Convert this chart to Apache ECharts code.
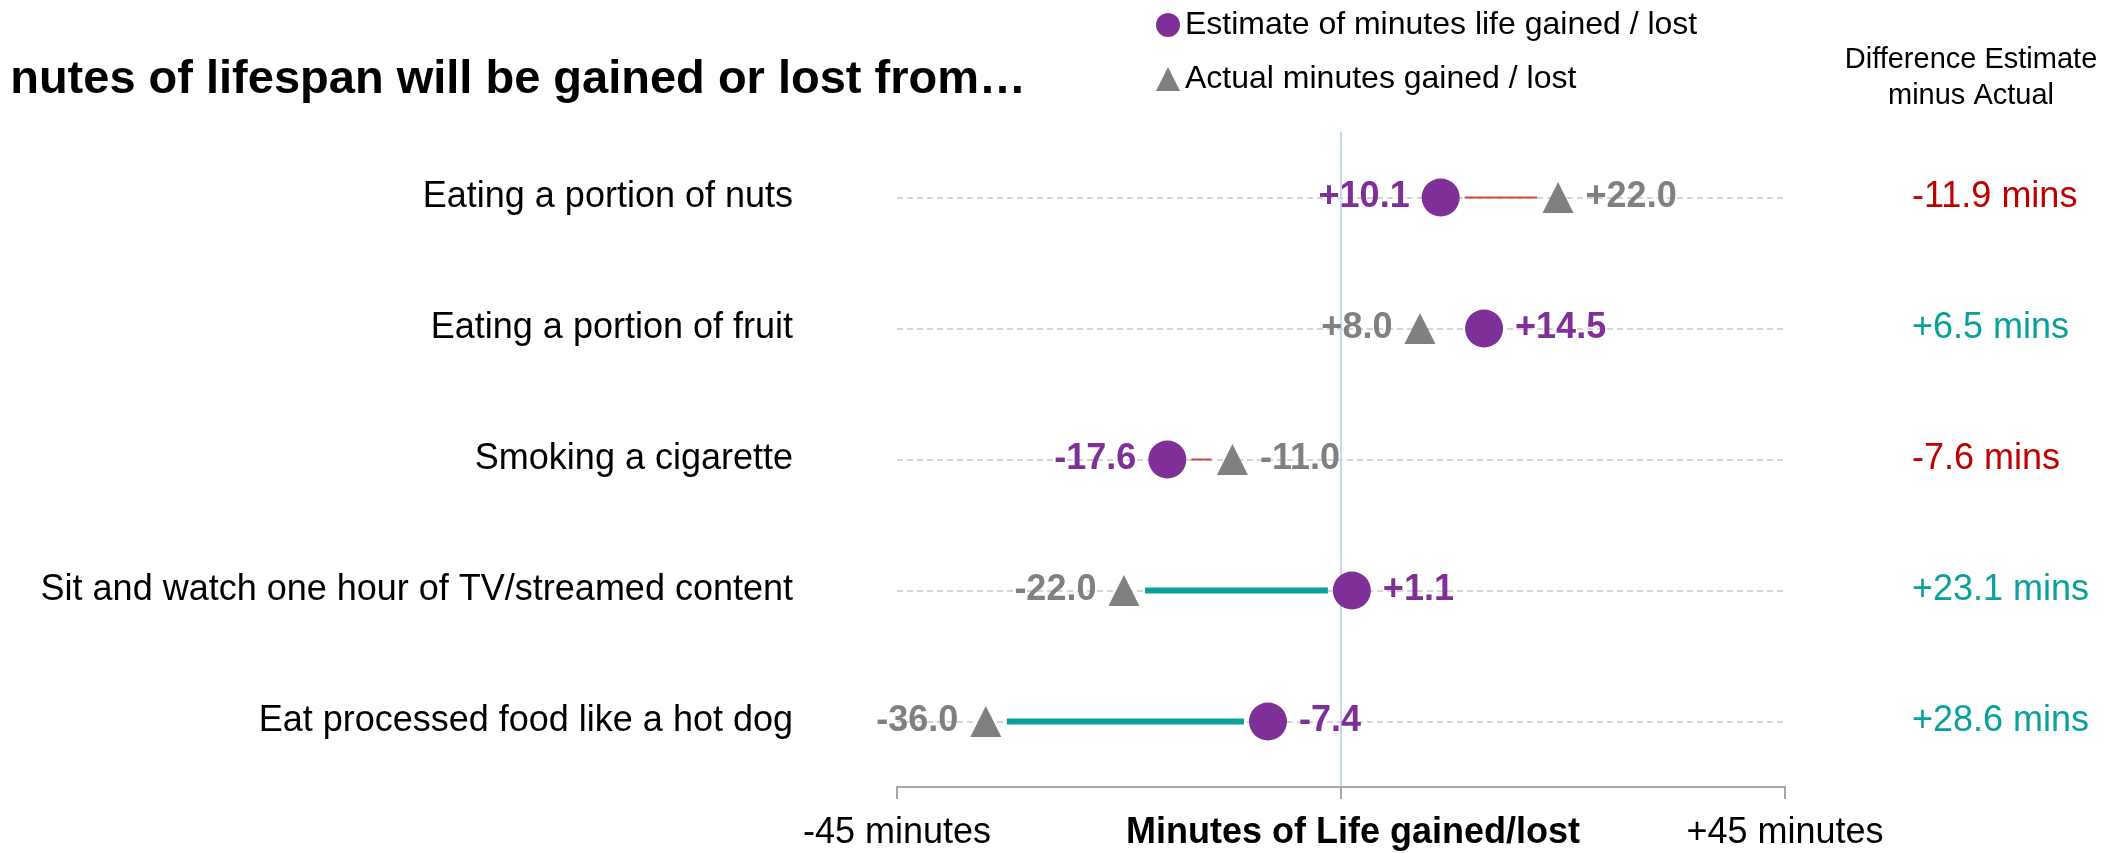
<!DOCTYPE html>
<html>
<head>
<meta charset="utf-8">
<title>Minutes of lifespan</title>
<script src="https://cdn.jsdelivr.net/npm/echarts@6/dist/echarts.min.js"></script>
<style>
  html, body { margin: 0; padding: 0; background: #fff; }
  #chart { width: 2116px; height: 853px; }
</style>
</head>
<body>
<div id="chart"></div>
<script>
// data
const categories = [
  'Eating a portion of nuts',
  'Eating a portion of fruit',
  'Smoking a cigarette',
  'Sit and watch one hour of TV/streamed content',
  'Eat processed food like a hot dog'
]
const estimate = [10.1, 14.5, -17.6, 1.1, -7.4]
const actual = [22.0, 8.0, -11.0, -22.0, -36.0]
const diffLabels = ['-11.9', '+6.5', '-7.6', '+23.1', '+28.6']
// rows that have a connector drawn between the two marks
const linkedRows = [0, 2, 3, 4]
const tickValues = [-45, 0, 45]
const tickLabels = ['-45 minutes', '', '+45 minutes']

const FONT = "'Liberation Sans', Arial, sans-serif"
const PURPLE = '#7f3098'
const GREY = '#808080'
const TEAL = '#0aa19b'
const RED = '#c00000'

const fmt = (v) => (v > 0 ? '+' : '') + v.toFixed(1)

const chart = echarts.init(document.getElementById('chart'))

const option = {
  animation: false,
  textStyle: { fontFamily: FONT },
  title: [
    {
      text: 'nutes of lifespan will be gained or lost from…',
      left: 1021,
      top: 52,
      textAlign: 'right',
      textStyle: { fontFamily: FONT, fontSize: 47, fontWeight: 'bold', color: '#000' }
    },
    {
      text: 'Difference Estimate\nminus Actual',
      left: 1966,
      top: 37,
      textAlign: 'center',
      textStyle: { fontFamily: FONT, fontSize: 29, fontWeight: 'normal', color: '#000', lineHeight: 36 }
    }
  ],
  legend: {
    orient: 'vertical',
    left: 1151,
    top: 4,
    itemWidth: 24,
    itemHeight: 24,
    itemGap: 22,
    textStyle: { fontFamily: FONT, fontSize: 32, color: '#000' },
    data: [
      { name: 'Estimate of minutes life gained / lost', icon: 'circle' },
      { name: 'Actual minutes gained / lost', icon: 'triangle' }
    ]
  },
  grid: { left: 897, right: 331, top: 132, bottom: 66, outerBoundsMode: 'none', containLabel: false },
  xAxis: {
    type: 'value',
    min: -45,
    max: 45,
    interval: 45,
    name: 'Minutes of Life gained/lost',
    nameLocation: 'middle',
    nameGap: 28,
    nameMoveOverlap: false,
    nameTextStyle: { fontFamily: FONT, fontSize: 36, fontWeight: 'bold', color: '#000', padding: [0, 0, 0, 24] },
    axisLine: { show: true, lineStyle: { color: '#a6a6a6', width: 2 } },
    axisTick: { show: true, length: 12, lineStyle: { color: '#a6a6a6', width: 2 } },
    axisLabel: {
      margin: 28,
      fontSize: 36,
      color: '#000',
      formatter: (v) => {
        const i = tickValues.indexOf(v)
        return i >= 0 ? tickLabels[i] : ''
      }
    },
    splitLine: { show: false }
  },
  yAxis: [
    {
      type: 'category',
      data: categories,
      inverse: true,
      axisLine: { show: false },
      axisTick: { show: false },
      axisLabel: { margin: 104, fontSize: 36, color: '#000' }
    },
    {
      type: 'category',
      data: categories,
      inverse: true,
      position: 'right',
      axisLine: { show: false },
      axisTick: { show: false },
      axisLabel: {
        margin: 127,
        fontSize: 36,
        formatter: (v, i) => {
          const d = diffLabels[i]
          return (d.charAt(0) === '-' ? '{neg|' : '{pos|') + d + ' mins}'
        },
        rich: {
          neg: { fontFamily: FONT, fontSize: 36, color: RED },
          pos: { fontFamily: FONT, fontSize: 36, color: TEAL }
        }
      }
    }
  ],
  series: [
    {
      // guide lines: dashed row lines and the blue zero line
      type: 'scatter',
      data: [],
      silent: true,
      z: 0,
      markLine: {
        silent: true,
        symbol: 'none',
        z: 0,
        label: { show: false },
        data: categories.map((c) => ({
          yAxis: c,
          lineStyle: { color: '#c8c8c8', type: [6, 4], width: 1.5 }
        })).concat([
          { xAxis: 0, lineStyle: { color: '#c6d9f1', type: 'solid', width: 2 } }
        ])
      }
    },
    {
      // connectors between estimate and actual
      type: 'custom',
      silent: true,
      encode: { x: [0, 1], y: 2 },
      data: linkedRows.map((i) => [estimate[i], actual[i], i]),
      renderItem: (params, api) => {
        const est = api.value(0)
        const act = api.value(1)
        const row = api.value(2)
        const p1 = api.coord([est, row])
        const p2 = api.coord([act, row])
        const dir = p2[0] > p1[0] ? 1 : -1
        const positive = est - act > 0
        return {
          type: 'line',
          shape: { x1: p1[0] + dir * 24, y1: p1[1], x2: p2[0] - dir * 21, y2: p2[1] },
          style: {
            stroke: positive ? TEAL : '#cc4a3c',
            lineWidth: positive ? 6 : 2
          }
        }
      },
      z: 10
    },
    {
      name: 'Actual minutes gained / lost',
      type: 'scatter',
      symbol: 'triangle',
      symbolSize: 31,
      itemStyle: { color: GREY, opacity: 1 },
      data: actual.map((v, i) => ({
        value: [v, i],
        label: { position: v < estimate[i] ? 'left' : 'right' }
      })),
      label: {
        show: true,
        distance: 12,
        fontFamily: FONT,
        fontSize: 36,
        fontWeight: 'bold',
        color: GREY,
        formatter: (p) => fmt(p.value[0])
      },
      z: 11
    },
    {
      name: 'Estimate of minutes life gained / lost',
      type: 'scatter',
      symbol: 'circle',
      symbolSize: 38,
      itemStyle: { color: PURPLE, opacity: 1 },
      data: estimate.map((v, i) => ({
        value: [v, i],
        label: { position: v < actual[i] ? 'left' : 'right' }
      })),
      label: {
        show: true,
        distance: 12,
        fontFamily: FONT,
        fontSize: 36,
        fontWeight: 'bold',
        color: PURPLE,
        formatter: (p) => fmt(p.value[0])
      },
      z: 12
    }
  ]
}

chart.setOption(option)
</script>
</body>
</html>
